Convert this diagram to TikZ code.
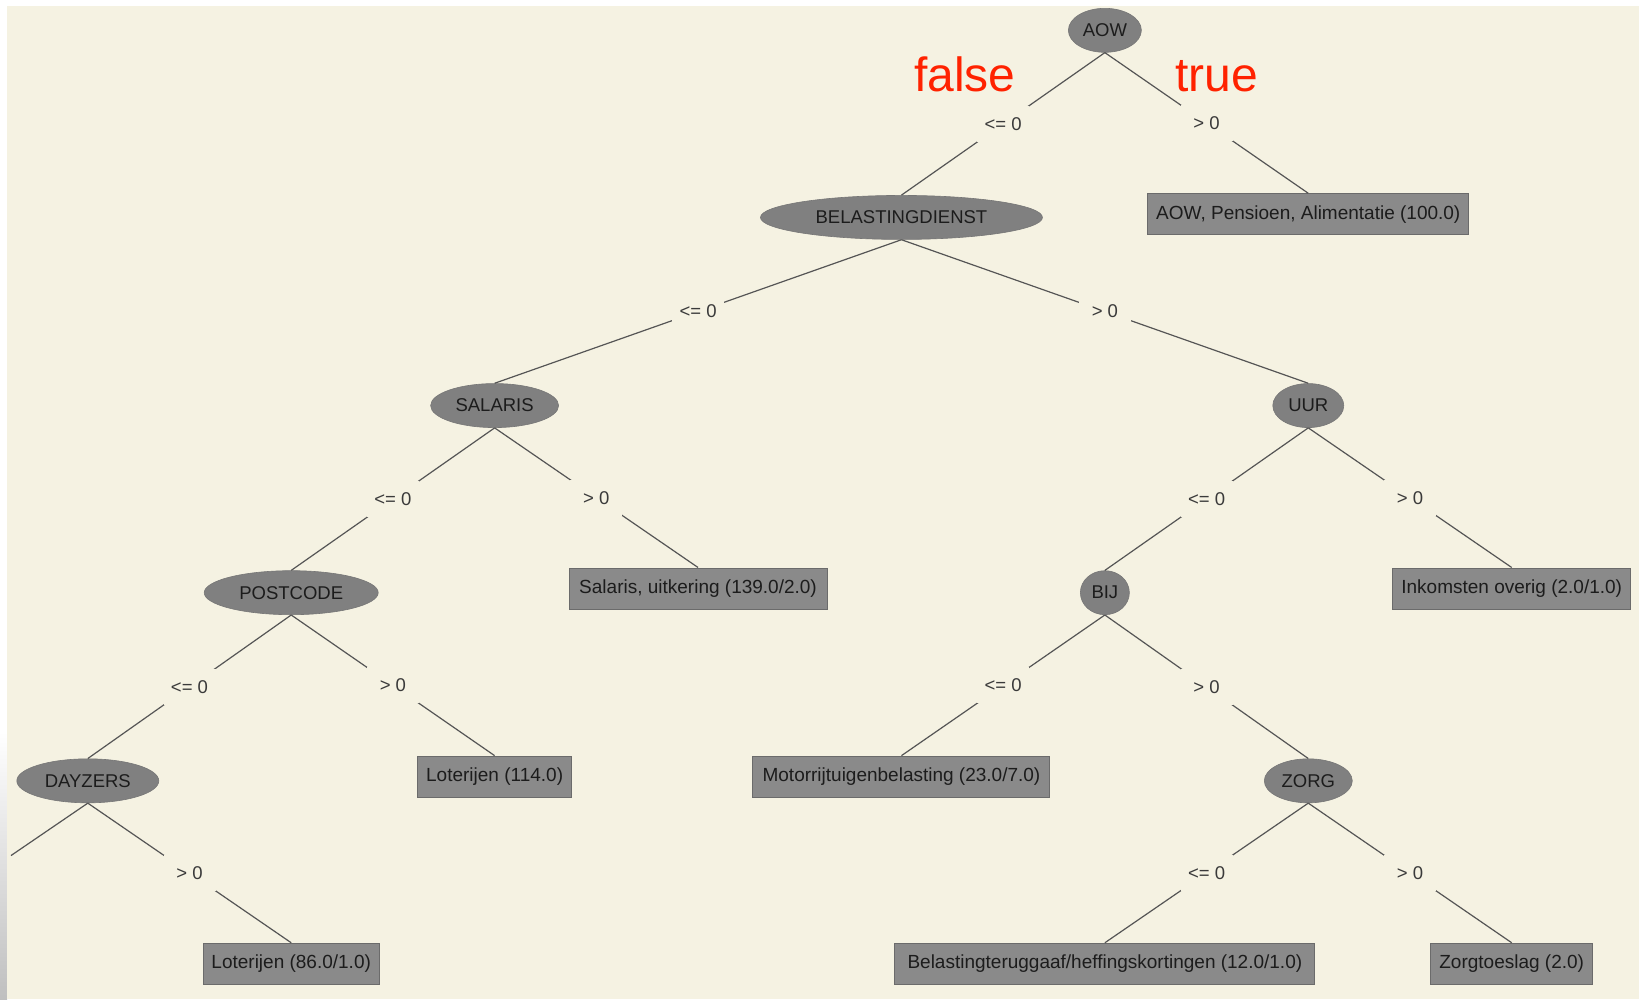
\documentclass[tikz,border=0pt]{standalone}
\usepackage{fontspec}
\setmainfont{Liberation Sans}
\usetikzlibrary{shapes.geometric}

\definecolor{paper}{HTML}{F5F2E2}
\definecolor{nodegray}{HTML}{808080}
\definecolor{leafgray}{HTML}{8A8A8A}
\definecolor{leafline}{HTML}{6B6B6B}
\definecolor{inkdark}{HTML}{1C1C1C}
\definecolor{condink}{HTML}{3A3A3A}
\definecolor{edgegray}{HTML}{555555}
\definecolor{markred}{HTML}{FF2200}

\begin{document}
\begin{tikzpicture}[x=1.0453pt, y=-1.0453pt,
  attr/.style={ellipse, fill=nodegray, draw=nodegray!92!black, line width=0.6pt,
    inner sep=0pt, minimum height=44pt, text=inkdark,
    font=\fontsize{18.5}{20}\selectfont},
  leaf/.style={rectangle, fill=leafgray, draw=leafline, line width=1pt,
    inner sep=0pt, minimum height=41pt, text=inkdark,
    font=\fontsize{19}{21}\selectfont},
  branch/.style={draw=edgegray, line width=1.2pt},
  cond/.style={fill=paper, inner sep=0pt, minimum width=52pt, minimum height=36pt,
    text=condink, font=\fontsize{18.5}{20}\selectfont},
  verdict/.style={text=markred, anchor=base, inner sep=0pt,
    font=\fontsize{48}{50}\selectfont}
]
% canvas
\useasboundingbox (0,0) rectangle (1568,956);
\fill[white] (0,0) rectangle (1568,956);
\shade[top color=white, bottom color=black!25] (0,700) rectangle (6.7,956);
\fill[paper] (6.7,5.7) rectangle (1568,956);

% decision nodes
\node[attr, minimum width=73pt]  (aow)      at (1057,29)   {AOW};
\node[attr, minimum width=282pt] (bel)      at (862.4,208) {BELASTINGDIENST};
\node[attr, minimum width=128pt] (salaris)  at (473.2,388) {SALARIS};
\node[attr, minimum width=71pt]  (uur)      at (1251.6,388) {UUR};
\node[attr, minimum width=174pt] (postcode) at (278.6,567) {POSTCODE};
\node[attr, minimum width=49pt]  (bij)      at (1057,567)  {BIJ};
\node[attr, minimum width=142pt] (dayzers)  at (84,747)    {DAYZERS};
\node[attr, minimum width=88pt]  (zorg)     at (1251.6,747) {ZORG};

% leaves
\node[leaf, minimum width=321pt] (lfaow)   at (1251.6,205) {AOW, Pensioen, Alimentatie (100.0)};
\node[leaf, minimum width=258pt] (lfsal)   at (667.8,563)  {Salaris, uitkering (139.0/2.0)};
\node[leaf, minimum width=238pt] (lfink)   at (1446.2,563) {Inkomsten overig (2.0/1.0)};
\node[leaf, minimum width=154pt] (lflotA)  at (473.2,743)  {Loterijen (114.0)};
\node[leaf, minimum width=297pt] (lfmotor) at (862.4,743)  {Motorrijtuigenbelasting (23.0/7.0)};
\node[leaf, minimum width=176pt] (lflotB)  at (278.6,922)  {Loterijen (86.0/1.0)};
\node[leaf, minimum width=420pt] (lfbelt)  at (1057,922)   {Belastingteruggaaf/heffingskortingen (12.0/1.0)};
\node[leaf, minimum width=162pt] (lfzorg)  at (1446.2,922) {Zorgtoeslag (2.0)};

% branch that leaves the canvas on the left
\coordinate (offleft) at (10.5,818.5);

% branches with their conditions
\draw[branch] (aow.south)      -- node[cond] {<= 0} (bel.north);
\draw[branch] (aow.south)      -- node[cond] {> 0}  (lfaow.north);
\draw[branch] (bel.south)      -- node[cond] {<= 0} (salaris.north);
\draw[branch] (bel.south)      -- node[cond] {> 0}  (uur.north);
\draw[branch] (salaris.south)  -- node[cond] {<= 0} (postcode.north);
\draw[branch] (salaris.south)  -- node[cond] {> 0}  (lfsal.north);
\draw[branch] (uur.south)      -- node[cond] {<= 0} (bij.north);
\draw[branch] (uur.south)      -- node[cond] {> 0}  (lfink.north);
\draw[branch] (postcode.south) -- node[cond] {<= 0} (dayzers.north);
\draw[branch] (postcode.south) -- node[cond] {> 0}  (lflotA.north);
\draw[branch] (bij.south)      -- node[cond] {<= 0} (lfmotor.north);
\draw[branch] (bij.south)      -- node[cond] {> 0}  (zorg.north);
\draw[branch] (dayzers.south)  -- (offleft);
\draw[branch] (dayzers.south)  -- node[cond] {> 0}  (lflotB.north);
\draw[branch] (zorg.south)     -- node[cond] {<= 0} (lfbelt.north);
\draw[branch] (zorg.south)     -- node[cond] {> 0}  (lfzorg.north);

% annotations of the root split
\node[verdict] (vfalse) at (923,88)  {false};
\node[verdict] (vtrue)  at (1164,88) {true};
\end{tikzpicture}
\end{document}
